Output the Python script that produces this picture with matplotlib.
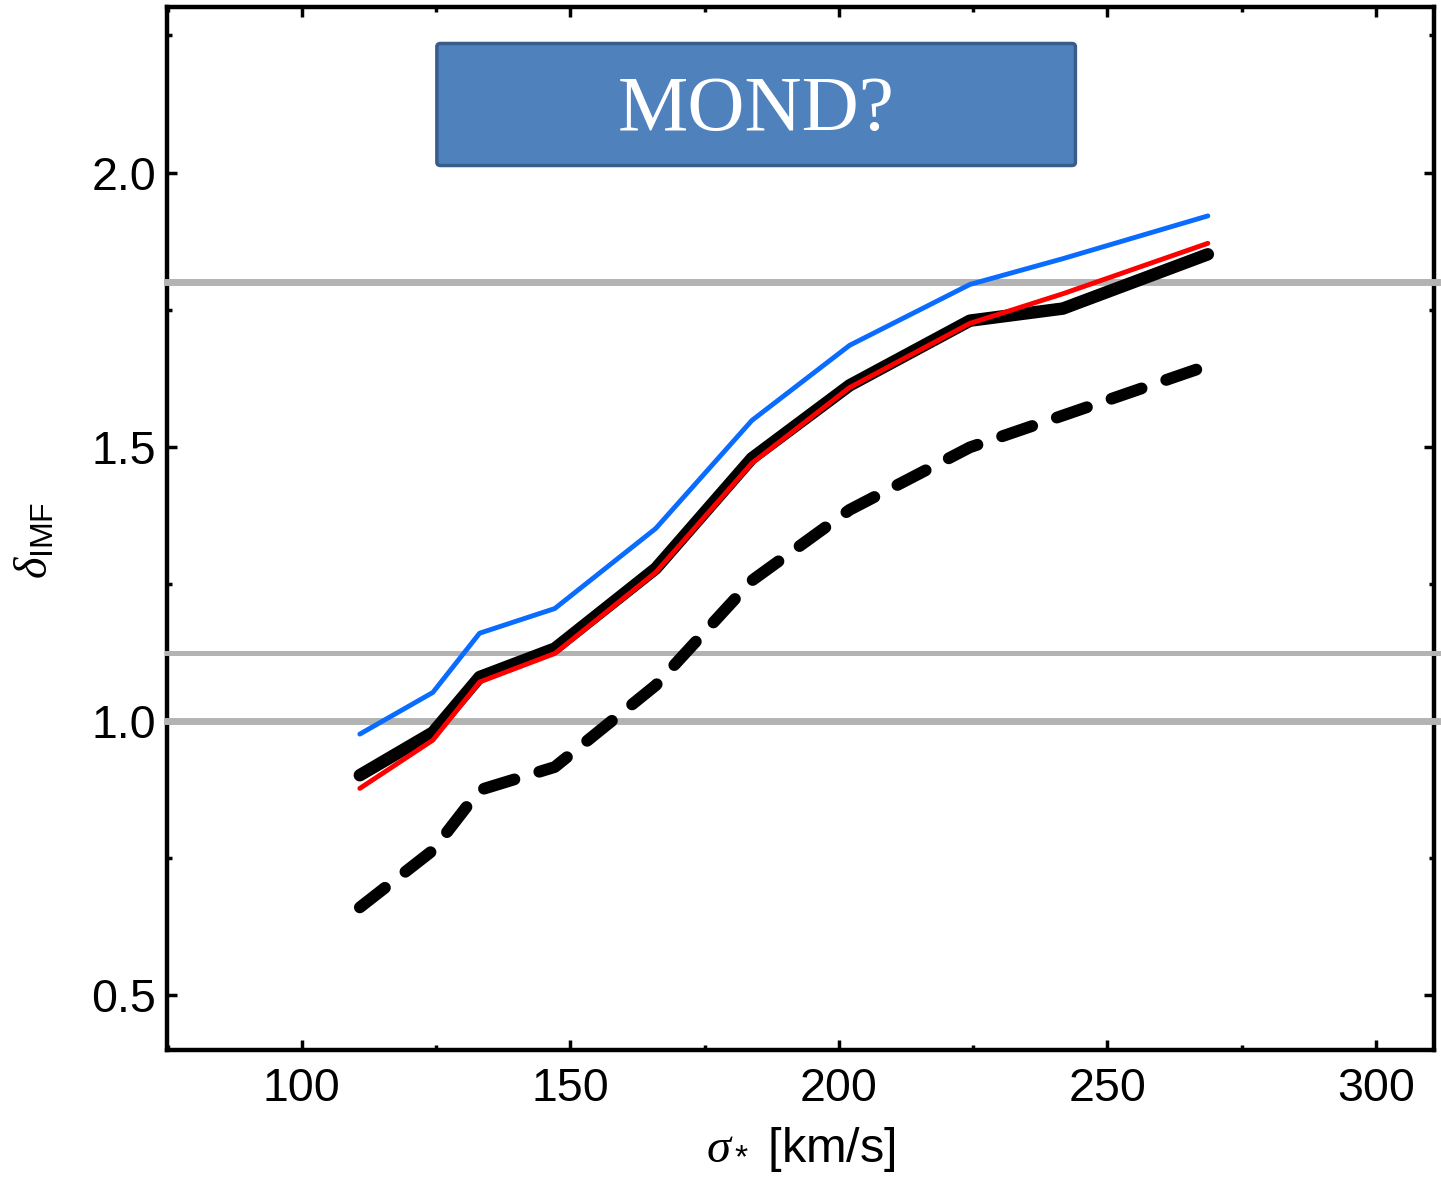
import matplotlib
matplotlib.use("Agg")
import matplotlib.pyplot as plt
from matplotlib.patches import FancyBboxPatch
from matplotlib.ticker import MultipleLocator

# velocity dispersion bins [km/s]
sigma = [110.8, 124.4, 133.1, 147.1, 165.9, 183.8, 202.0, 224.4, 241.7, 268.7]

# delta_IMF curves
d_black = [0.901, 0.979, 1.080, 1.132, 1.278, 1.479, 1.612, 1.730, 1.752, 1.851]
d_red = [0.877, 0.965, 1.071, 1.123, 1.271, 1.470, 1.608, 1.725, 1.779, 1.871]
d_blue = [0.976, 1.052, 1.160, 1.205, 1.351, 1.548, 1.685, 1.796, 1.843, 1.921]
d_dash = [0.660, 0.764, 0.874, 0.916, 1.065, 1.256, 1.385, 1.499, 1.557, 1.648]

# reference levels
ref_levels = [1.8, 1.124, 1.0]
ref_widths = [5.0, 3.6, 5.0]

plt.rcParams['font.family'] = ['Liberation Sans', 'DejaVu Sans']
plt.rcParams['mathtext.fontset'] = 'custom'
plt.rcParams['mathtext.rm'] = 'Liberation Sans'
plt.rcParams['mathtext.it'] = 'Liberation Serif:italic'

fig = plt.figure(figsize=(14.41, 11.82), dpi=100)
ax = fig.add_axes([0.1159, 0.1117, 0.8792, 0.8824])

for lev, lw in zip(ref_levels, ref_widths):
    ax.axhline(lev, xmin=0, xmax=1.01, color='#b3b3b3', lw=lw, zorder=2.6, clip_on=False)

ax.plot(sigma, d_dash, color='black', lw=8.5, dashes=(2.7, 2.2),
        dash_capstyle='round', solid_capstyle='round', zorder=3)
ax.plot(sigma, d_black, color='black', lw=9, solid_capstyle='round',
        solid_joinstyle='round', zorder=3)
ax.plot(sigma, d_red, color='#ff0000', lw=3.5, solid_capstyle='round', zorder=4)
ax.plot(sigma, d_blue, color='#0a6cff', lw=3.5, solid_capstyle='round', zorder=4)

ax.set_xlim(74.9, 310.8)
ax.set_ylim(0.4, 2.302)

ax.xaxis.set_major_locator(MultipleLocator(50))
ax.xaxis.set_minor_locator(MultipleLocator(25))
ax.yaxis.set_major_locator(MultipleLocator(0.5))
ax.yaxis.set_minor_locator(MultipleLocator(0.25))
ax.yaxis.set_major_formatter(matplotlib.ticker.FormatStrFormatter('%.1f'))

ax.tick_params(which='both', direction='in', top=True, right=True, width=2.5,
               labelsize=33.5, colors='black')
ax.tick_params(axis='x', which='major', length=7, pad=12)
ax.tick_params(axis='y', which='major', length=7, pad=8)
ax.tick_params(which='minor', length=3.5)

for sp in ax.spines.values():
    sp.set_linewidth(3.2)

ax.set_xlabel(r'$\sigma_*$ [km/s]', fontsize=35)
ax.xaxis.set_label_coords(0.5, -0.072)
ax.set_ylabel(r'$\delta_{\mathrm{IMF}}$', fontsize=33)
ax.yaxis.set_label_coords(-0.086, 0.489)

box = FancyBboxPatch((0.213, 0.848), 0.504, 0.117, transform=ax.transAxes,
                     boxstyle='round,pad=0,rounding_size=0.003',
                     facecolor='#4f81bd', edgecolor='#385d8a', lw=2.5, zorder=5)
ax.add_patch(box)
ax.text(0.465, 0.9005, 'MOND?', transform=ax.transAxes, ha='center', va='center',
        fontsize=57, color='white', family='Liberation Serif', zorder=6)

fig.savefig('out.png', dpi=100)
